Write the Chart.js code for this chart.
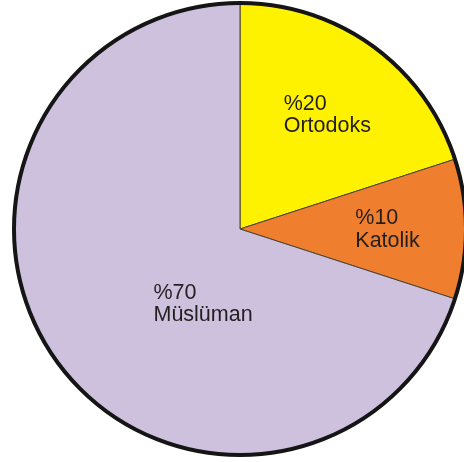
<!DOCTYPE html>
<html>
<head>
<meta charset="utf-8">
<script src="https://cdn.jsdelivr.net/npm/chart.js@4/dist/chart.umd.min.js"></script>
<style>
  html, body { margin: 0; padding: 0; background: #fff; overflow: hidden; }
  #wrap { position: absolute; left: 0; top: 0; width: 480px; height: 458px; }
</style>
</head>
<body>
<div id="wrap"><canvas id="pie"></canvas></div>
<script>
const groups = ["Ortodoks", "Katolik", "Müslüman"];
const shares = [20, 10, 70];
const sliceColors = ["#fff200", "#ef7f2e", "#cdc1de"];

// where each label block starts, relative to the centre, in units of the radius
const labelSpots = [[0.193, -0.526], [0.509, -0.022], [-0.382, 0.307]];

const sliceLabels = {
  id: "sliceLabels",
  afterDatasetsDraw(chart) {
    const ctx = chart.ctx;
    const arcs = chart.getDatasetMeta(0).data;
    ctx.save();
    // outer black ring
    const a0 = arcs[0];
    ctx.beginPath();
    ctx.arc(a0.x, a0.y, a0.outerRadius - 0.5, 0, Math.PI * 2);
    ctx.lineWidth = 4;
    ctx.strokeStyle = "#151515";
    ctx.stroke();

    ctx.font = "21.5px 'Liberation Sans', Arial, sans-serif";
    ctx.fillStyle = "#231f20";
    ctx.textAlign = "left";
    ctx.textBaseline = "alphabetic";
    arcs.forEach((arc, i) => {
      const x = arc.x + labelSpots[i][0] * arc.outerRadius;
      const y = arc.y + labelSpots[i][1] * arc.outerRadius;
      ctx.fillText("%" + shares[i], x, y);
      ctx.fillText(groups[i], x, y + 22.5);
    });
    ctx.restore();
  }
};

new Chart(document.getElementById("pie"), {
  type: "pie",
  data: {
    labels: groups,
    datasets: [
      {
        data: shares,
        backgroundColor: sliceColors,
        borderColor: "#4a4233",
        borderWidth: 1,
        hoverOffset: 0,
        offset: 0
      }
    ]
  },
  options: {
    responsive: true,
    maintainAspectRatio: false,
    animation: false,
    layout: { padding: 2 },
    plugins: {
      legend: { display: false },
      tooltip: { enabled: false }
    }
  },
  plugins: [sliceLabels]
});
</script>
</body>
</html>
